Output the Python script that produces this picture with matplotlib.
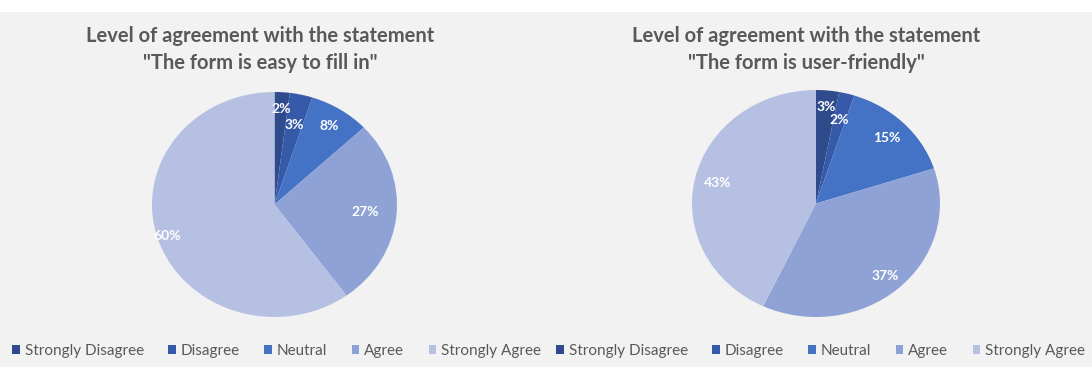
import matplotlib.pyplot as plt
from matplotlib.patches import Rectangle

plt.rcParams['font.family'] = ['Lato', 'DejaVu Sans']

categories = ["Strongly Disagree", "Disagree", "Neutral", "Agree", "Strongly Agree"]
easy_values = [2, 3, 8, 27, 60]
friendly_values = [3, 2, 15, 37, 43]
titles = ['Level of agreement with the statement\n"The form is easy to fill in"',
          'Level of agreement with the statement\n"The form is user-friendly"']

colors = ["#2F4B8C", "#3659AA", "#4472C4", "#8EA2D6", "#B6C0E2"]
# radial position of each % label (fraction of radius)
easy_lbl_r = [0.85, 0.72, 0.83, 0.74, 0.92]
friendly_lbl_r = [0.85, 0.76, 0.81, 0.85, 0.81]
txt_gray = "#595959"

W, H = 1092, 367
fig = plt.figure(figsize=(W / 100, H / 100), dpi=100, facecolor="white")
fig.patches.append(Rectangle((0, 0), 1, 1 - 12 / H, transform=fig.transFigure,
                             facecolor="#F2F2F2", edgecolor="none", zorder=-5))


def draw(box, values, lbl_r, title, title_x, legend_x):
    x0, y0, x1, y1 = box
    ax = fig.add_axes([x0 / W, 1 - y1 / H, (x1 - x0) / W, (y1 - y0) / H], zorder=2)
    wedges, texts, autos = ax.pie(values, colors=colors, startangle=90, counterclock=False,
                                  autopct='%d%%', pctdistance=1.0,
                                  wedgeprops=dict(linewidth=0),
                                  textprops=dict(color="white", fontsize=10, fontweight="bold"))
    for t, r in zip(autos, lbl_r):
        px, py = t.get_position()
        t.set_position((px * r, py * r))
    ax.set_aspect('auto')
    ax.set_xlim(-1, 1)
    ax.set_ylim(-1, 1)
    ax.axis('off')
    fig.text(title_x / W, 1 - 49.5 / H, title, ha="center", va="center", fontsize=14.5,
             fontweight="bold", color=txt_gray, linespacing=1.38)
    fig.legend(wedges, categories, loc="center left", bbox_to_anchor=(legend_x / W, 1 - 351 / H),
               ncol=5, frameon=False, fontsize=11, labelcolor=txt_gray,
               handlelength=0.52, handleheight=0.52, handletextpad=0.3, columnspacing=1.6,
               borderaxespad=0, borderpad=0)


draw((152, 92, 397, 317), easy_values, easy_lbl_r, titles[0], 260, 12)
draw((692, 90, 940, 317), friendly_values, friendly_lbl_r, titles[1], 806, 556)

fig.savefig("out.png", dpi=100, facecolor=fig.get_facecolor())
